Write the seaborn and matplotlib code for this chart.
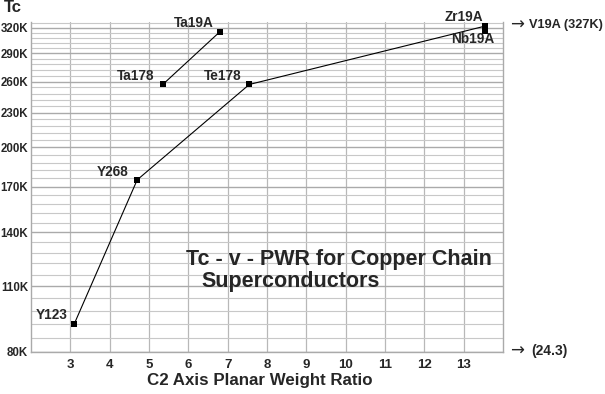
import numpy as np
import pandas as pd
import matplotlib
matplotlib.use("Agg")
import matplotlib.pyplot as plt
import seaborn as sns
from matplotlib.ticker import FixedLocator

# compounds, C2 axis planar weight ratio and Tc (K)
names = ["Y123", "Y268", "Te178", "Zr19A", "Ta178", "Ta19A", "Nb19A"]
ratio = [3.1, 4.7, 7.55, 13.55, 5.35, 6.8, 13.55]
tc = [92, 175, 257, 322, 257, 315, 316]
chain = ["a", "a", "a", "a", "b", "b", "c"]

y_ticks = [80, 110, 140, 170, 200, 230, 260, 290, 320]
x_ticks = [3, 4, 5, 6, 7, 8, 9, 10, 11, 12, 13]

# label offsets in pixels from the marker (label centre)
label_off = {"Y123": (-23, 9), "Y268": (-25, 8), "Te178": (-27, 8), "Zr19A": (-21, 9),
             "Ta178": (-27, 8), "Ta19A": (-26, 9), "Nb19A": (-13, -8)}

df = pd.DataFrame({"name": names, "ratio": ratio, "tc": tc, "chain": chain})

sns.set_theme(style="white")
plt.rcParams["font.family"] = ["Liberation Sans", "DejaVu Sans"]

fig = plt.figure(figsize=(6.05, 3.94), dpi=100)
ax = fig.add_axes([31 / 605, 1 - 352 / 394, 472 / 605, 330 / 394])

# the y axis is stretched, roughly log(T + 40)
ax.set_yscale("function", functions=(lambda t: np.log(np.clip(t + 40, 1e-6, None)),
                                     lambda u: np.exp(u) - 40))
ax.set_xlim(2, 14)
ax.set_ylim(80, 327)

sns.lineplot(data=df, x="ratio", y="tc", units="chain", estimator=None, sort=False,
             color="black", lw=0.8, marker="s", markersize=4.2, markeredgewidth=0, ax=ax)

for n, x, y in zip(names, ratio, tc):
    dx, dy = label_off[n]
    ax.annotate(n, (x, y), xytext=(dx, dy), textcoords="offset pixels",
                ha="center", va="center", fontsize=9.8, fontweight="bold")

ax.yaxis.set_major_locator(FixedLocator(y_ticks))
ax.set_yticklabels([f"{v}K" for v in y_ticks])
ax.yaxis.set_minor_locator(FixedLocator([v for v in range(80, 327, 6) if v not in y_ticks]))
ax.xaxis.set_major_locator(FixedLocator(x_ticks))
ax.set_xticklabels([str(v) for v in x_ticks])

ax.grid(which="major", axis="y", color="#aaaaaa", lw=1.0)
ax.grid(which="minor", axis="y", color="#c8c8c8", lw=0.8)
ax.grid(which="major", axis="x", color="#b8b8b8", lw=0.9)
ax.set_axisbelow(True)
ax.tick_params(axis="both", which="both", length=0)
ax.tick_params(axis="y", pad=2, labelsize=8.3)
ax.tick_params(axis="x", pad=5, labelsize=9.5)
for lab in ax.get_xticklabels() + ax.get_yticklabels():
    lab.set_fontweight("bold")
for s in ["left", "right", "bottom"]:
    ax.spines[s].set_color("#aaaaaa")
    ax.spines[s].set_linewidth(1.0)
ax.spines["top"].set_visible(False)
ax.set_xlabel("")
ax.set_ylabel("")

def px(x, y):
    return x / 605, 1 - y / 394

fig.text(*px(13, 8), "Tc", ha="center", va="center", fontsize=12, fontweight="bold")
fig.text(*px(260, 381), "C2 Axis Planar Weight Ratio", ha="center", va="center",
         fontsize=12.2, fontweight="bold")
fig.text(*px(186, 260), "Tc - v - PWR for Copper Chain", ha="left", va="center",
         fontsize=15.5, fontweight="bold")
fig.text(*px(201, 282), "Superconductors", ha="left", va="center",
         fontsize=15.5, fontweight="bold")

fig.text(*px(510, 25), "\u2192", ha="left", va="center", fontsize=12, family=["DejaVu Sans"])
fig.text(*px(603, 25), "V19A (327K)", ha="right", va="center", fontsize=9.2, fontweight="bold")
fig.text(*px(510, 351), "\u2192", ha="left", va="center", fontsize=12, family=["DejaVu Sans"])
fig.text(*px(531, 351), "(24.3)", ha="left", va="center", fontsize=10, fontweight="bold")

fig.savefig("out.png", dpi=100, facecolor="white")
